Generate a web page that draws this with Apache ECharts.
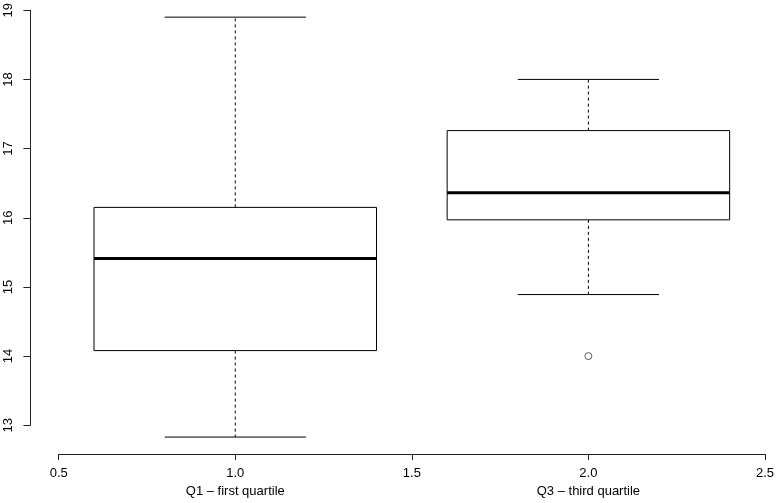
<!DOCTYPE html>
<html>
<head>
<meta charset="utf-8">
<script src="https://cdn.jsdelivr.net/npm/echarts@6/dist/echarts.min.js"></script>
<style>
html,body{margin:0;padding:0;background:#fff;}
#chart{width:777px;height:503px;}
</style>
</head>
<body>
<div id="chart"></div>
<script>
// ---- data ----
const groupPositions = [1, 2];
const groupNames = ['Q1 – first quartile', 'Q3 – third quartile'];
const whiskerLow = [12.83, 14.89];
const quartile1 = [14.08, 15.97];
const medians = [15.41, 16.36];
const quartile3 = [16.15, 17.26];
const whiskerHigh = [18.90, 18.00];
const outlierX = [2];
const outlierY = [14.0];
const xTicks = [0.5, 1.0, 1.5, 2.0, 2.5];
const xTickLabels = ['0.5', '1.0', '1.5', '2.0', '2.5'];
const yTicks = [13, 14, 15, 16, 17, 18, 19];

// ---- build ----
const boxData = groupPositions.map((p, i) => [p, whiskerLow[i], quartile1[i], medians[i], quartile3[i], whiskerHigh[i]]);
const outlierData = outlierX.map((x, i) => [x, outlierY[i]]);

const BOX_W = 0.8, CAP_W = 0.4;
const FONT = 'Liberation Sans, Arial, sans-serif';

function renderBox(params, api) {
  const x = api.value(0);
  const lo = api.coord([x, api.value(1)]);
  const q1 = api.coord([x, api.value(2)]);
  const md = api.coord([x, api.value(3)]);
  const q3 = api.coord([x, api.value(4)]);
  const hi = api.coord([x, api.value(5)]);
  const hb = api.size([BOX_W, 0])[0] / 2;
  const hc = api.size([CAP_W, 0])[0] / 2;
  const cx = lo[0];
  const solid = { stroke: '#000', lineWidth: 1, fill: null };
  const dashed = { stroke: '#000', lineWidth: 1, lineDash: [3, 3], fill: null };
  return {
    type: 'group',
    children: [
      { type: 'line', shape: { x1: cx, y1: q3[1], x2: cx, y2: hi[1] }, style: dashed },
      { type: 'line', shape: { x1: cx, y1: q1[1], x2: cx, y2: lo[1] }, style: dashed },
      { type: 'line', shape: { x1: cx - hc, y1: hi[1], x2: cx + hc, y2: hi[1] }, style: solid },
      { type: 'line', shape: { x1: cx - hc, y1: lo[1], x2: cx + hc, y2: lo[1] }, style: solid },
      { type: 'rect', shape: { x: cx - hb, y: q3[1], width: 2 * hb, height: q1[1] - q3[1] }, style: { stroke: '#000', lineWidth: 1, fill: '#fff' } },
      { type: 'line', shape: { x1: cx - hb, y1: md[1], x2: cx + hb, y2: md[1] }, style: { stroke: '#000', lineWidth: 3 } }
    ]
  };
}

const chart = echarts.init(document.getElementById('chart'), null, { renderer: 'canvas' });
chart.setOption({
  animation: false,
  backgroundColor: '#fff',
  grid: { left: 58.7, top: 9, width: 706.6, height: 416.3 },
  xAxis: {
    type: 'value', min: xTicks[0], max: xTicks[xTicks.length - 1], interval: 0.5,
    offset: 28.7,
    splitLine: { show: false },
    axisLine: { show: true, lineStyle: { color: '#222', width: 1 } },
    axisTick: { show: true, length: 6, lineStyle: { color: '#222' } },
    axisLabel: {
      margin: 10, color: '#000', fontFamily: FONT, fontSize: 13, lineHeight: 18,
      showMinLabel: true, showMaxLabel: true,
      formatter: function (v) {
        const i = xTicks.findIndex(t => Math.abs(t - v) < 1e-9);
        let s = i >= 0 ? xTickLabels[i] : String(v);
        const g = groupPositions.findIndex(p => Math.abs(p - v) < 1e-9);
        if (g >= 0) s += '\n' + groupNames[g];
        return s;
      }
    }
  },
  yAxis: {
    type: 'value', min: yTicks[0], max: yTicks[yTicks.length - 1], interval: 1,
    offset: 28.3,
    splitLine: { show: false },
    axisLine: { show: true, lineStyle: { color: '#222', width: 1 } },
    axisTick: { show: true, length: 7, lineStyle: { color: '#222' } },
    axisLabel: {
      rotate: 90, margin: 15, color: '#000', fontFamily: FONT, fontSize: 13,
      showMinLabel: true, showMaxLabel: true
    }
  },
  series: [
    {
      type: 'custom',
      renderItem: renderBox,
      data: boxData,
      encode: { x: 0, y: [1, 2, 3, 4, 5] },
      clip: false,
      z: 2
    },
    {
      type: 'scatter',
      data: outlierData,
      symbol: 'circle',
      symbolSize: 7,
      itemStyle: { color: '#fff', borderColor: '#000', borderWidth: 0.8 },
      clip: false,
      z: 3
    }
  ]
});
</script>
</body>
</html>
